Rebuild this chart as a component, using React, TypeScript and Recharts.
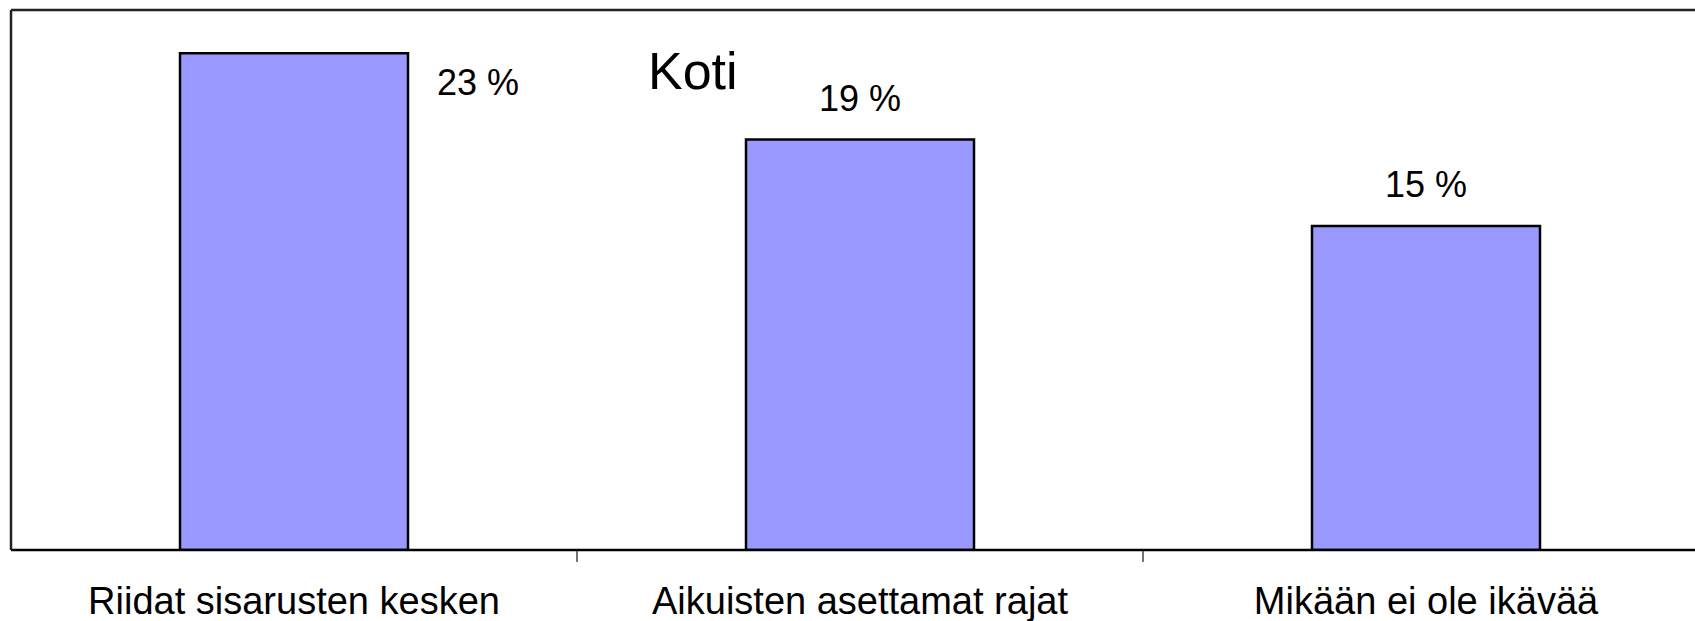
import React from 'react';
import { BarChart, Bar, XAxis, YAxis, ReferenceLine, LabelList } from 'recharts';

const categories = ['Riidat sisarusten kesken', 'Aikuisten asettamat rajat', 'Mikään ei ole ikävää'];
const values = [23, 19, 15];
const yMax = 25;
const title = 'Koti';

const data = categories.map((name, i) => ({ name, value: values[i] }));

const FONT = '"Liberation Sans", Arial, sans-serif';

// category label plus a small tick at the right edge of each band (except the last)
const CategoryTick = (props: any) => {
  const { x, y, payload, index } = props;
  const off = payload && typeof payload.offset === 'number' ? payload.offset : null;
  return (
    <g>
      {off !== null && index < categories.length - 1 && (
        <line x1={x + off} y1={y + 1} x2={x + off} y2={y + 12} stroke="#444" strokeWidth={1.5} />
      )}
      <text x={x} y={y + 64} textAnchor="middle" fontSize={38} fontFamily={FONT} fill="#000">
        {payload.value}
      </text>
    </g>
  );
};

// first bar is too tall for a label above it, so its label sits to the right
const ValueLabel = (props: any) => {
  const { x, y, width, value, index } = props;
  if (index === 0) {
    return (
      <text x={x + width + 29} y={y + 42} textAnchor="start" fontSize={36} fontFamily={FONT} fill="#000">
        {`${value} %`}
      </text>
    );
  }
  return (
    <text x={x + width / 2} y={y - 29} textAnchor="middle" fontSize={36} fontFamily={FONT} fill="#000">
      {`${value} %`}
    </text>
  );
};

export default function App() {
  return (
    <div style={{ position: 'absolute', left: 0, top: 0, width: 1695, height: 621, overflow: 'hidden', background: '#fff' }}>
      <BarChart
        width={1711}
        height={621}
        data={data}
        margin={{ top: 10, right: 2, left: 10, bottom: 0 }}
      >
        <XAxis
          dataKey="name"
          height={71}
          axisLine={{ stroke: '#000', strokeWidth: 2.5 }}
          tickLine={false}
          tickSize={0}
          tickMargin={0}
          interval={0}
          tick={<CategoryTick />}
        />
        <YAxis
          width={1}
          domain={[0, yMax]}
          allowDataOverflow
          tick={false}
          tickLine={false}
          axisLine={{ stroke: '#222', strokeWidth: 2.5 }}
        />
        <ReferenceLine y={yMax} stroke="#222" strokeWidth={2.5} />
        <Bar dataKey="value" fill="#9999FF" stroke="#000" strokeWidth={2.5} barSize={228} isAnimationActive={false}>
          <LabelList dataKey="value" content={<ValueLabel />} />
        </Bar>
      </BarChart>
      <div
        style={{
          position: 'absolute',
          left: 648,
          top: 45,
          fontFamily: FONT,
          fontSize: 52,
          lineHeight: '52px',
          color: '#000',
          whiteSpace: 'nowrap',
        }}
      >
        {title}
      </div>
    </div>
  );
}
